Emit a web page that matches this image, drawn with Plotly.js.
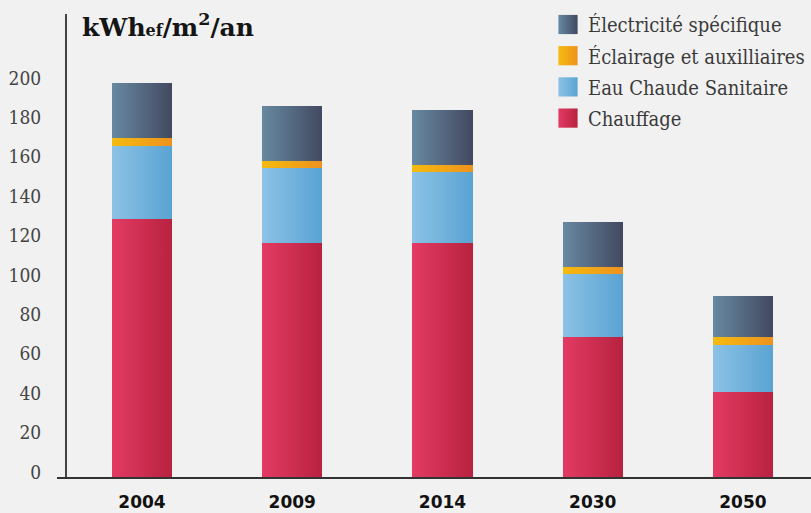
<!DOCTYPE html>
<html>
<head>
<meta charset="utf-8">
<script src="https://cdn.plot.ly/plotly-3.0.1.min.js"></script>
<style>
html,body{margin:0;padding:0;background:#f1f1f1;}
#chart{width:811px;height:513px;}
</style>
</head>
<body>
<div id="chart"></div>
<script>
const years = ['2004', '2009', '2014', '2030', '2050'];
const chauffage = [131, 119, 119, 71, 43];
const eauChaude = [37, 38, 36, 32, 24];
const eclairage = [4, 3.5, 3.5, 3.5, 4];
const electricite = [28, 28, 28, 23, 21];
const seriesNames = ['Chauffage', 'Eau Chaude Sanitaire', 'Éclairage et auxilliaires', 'Électricité spécifique'];
const yTicks = [0, 20, 40, 60, 80, 100, 120, 140, 160, 180, 200];

const baseColors = ['#cd2e52', '#72b2dc', '#f0a718', '#566a84'];
const gradients = [
  ['#e33b64', '#b8223f'],
  ['#8cc2e5', '#59a3d3'],
  ['#f4bb0e', '#ee921f'],
  ['#6789a1', '#424960']
];
const seriesValues = [chauffage, eauChaude, eclairage, electricite];

const serif = '"DejaVu Serif Condensed", "Liberation Serif", serif';

const data = seriesValues.map((vals, i) => ({
  type: 'bar',
  name: seriesNames[i],
  x: years,
  y: vals,
  legendgroup: 'g' + i,
  legendrank: 1000 - i,
  marker: {color: baseColors[i], line: {width: 0}},
  hoverinfo: 'skip'
}));

const W = 811, H = 513, L = 57;
const layout = {
  width: W, height: H,
  margin: {l: L, r: 0, t: 14, b: 36, autoexpand: false},
  paper_bgcolor: '#f1f1f1',
  plot_bgcolor: '#f1f1f1',
  barmode: 'stack',
  bargap: 0.6,
  showlegend: true,
  legend: {
    traceorder: 'grouped',
    tracegroupgap: 2.2,
    x: (548 - L) / (W - L), xanchor: 'left',
    y: 1 - 5 / H, yref: 'container', yanchor: 'top',
    bgcolor: 'rgba(0,0,0,0)',
    font: {family: serif, size: 20, color: '#3a3a3a'}
  },
  title: {
    text: 'kWh<span style="font-size:16px">ef</span>/m<sup>2</sup>/an',
    font: {family: '"DejaVu Serif", serif', size: 25, color: '#151515', weight: 'bold'},
    x: 82 / W, xanchor: 'left', xref: 'container',
    y: 1 - 27 / H, yanchor: 'middle', yref: 'container'
  },
  xaxis: {
    type: 'category',
    range: [-0.566, 4.453],
    showline: true, linecolor: '#333', linewidth: 2,
    ticks: '', showgrid: false, zeroline: false,
    ticklabelstandoff: 9,
    tickfont: {family: '"DejaVu Sans", sans-serif', size: 17, color: '#111', weight: 'bold'}
  },
  yaxis: {
    range: [0, 235],
    anchor: 'free', position: (66 - L) / (W - L),
    showline: true, linecolor: '#444', linewidth: 2,
    ticks: '', showgrid: false, zeroline: false,
    tickmode: 'array', tickvals: yTicks, ticktext: yTicks.map(String),
    ticklabelshift: -5,
    ticklabelstandoff: 20,
    tickfont: {family: serif, size: 19, color: '#444'}
  }
};

Plotly.newPlot('chart', data, layout, {staticPlot: true, displayModeBar: false}).then(gd => {
  const svg = gd.querySelector('.main-svg');
  const ns = 'http://www.w3.org/2000/svg';
  let defs = svg.querySelector('defs');
  if (!defs) { defs = document.createElementNS(ns, 'defs'); svg.insertBefore(defs, svg.firstChild); }
  gradients.forEach((g, i) => {
    const lg = document.createElementNS(ns, 'linearGradient');
    lg.setAttribute('id', 'grad' + i);
    lg.setAttribute('x1', '0'); lg.setAttribute('y1', '0');
    lg.setAttribute('x2', '1'); lg.setAttribute('y2', '0');
    [[0, g[0]], [1, g[1]]].forEach(([o, c]) => {
      const st = document.createElementNS(ns, 'stop');
      st.setAttribute('offset', o);
      st.setAttribute('stop-color', c);
      lg.appendChild(st);
    });
    defs.appendChild(lg);
  });
  const traces = gd.querySelectorAll('.barlayer .trace');
  traces.forEach((t, i) => {
    t.querySelectorAll('path').forEach(p => { p.style.fill = 'url(#grad' + i + ')'; });
  });
  gd.querySelectorAll('.legend .traces').forEach(t => {
    const d = t.__data__;
    const idx = d && d[0] && d[0].trace ? d[0].trace.index : null;
    t.querySelectorAll('.legendpoints path').forEach(p => {
      if (idx !== null) p.style.fill = 'url(#grad' + idx + ')';
      p.style.stroke = 'none';
      p.setAttribute('transform', (p.getAttribute('transform') || '') + ' scale(1.6)');
    });
  });
});
</script>
</body>
</html>
